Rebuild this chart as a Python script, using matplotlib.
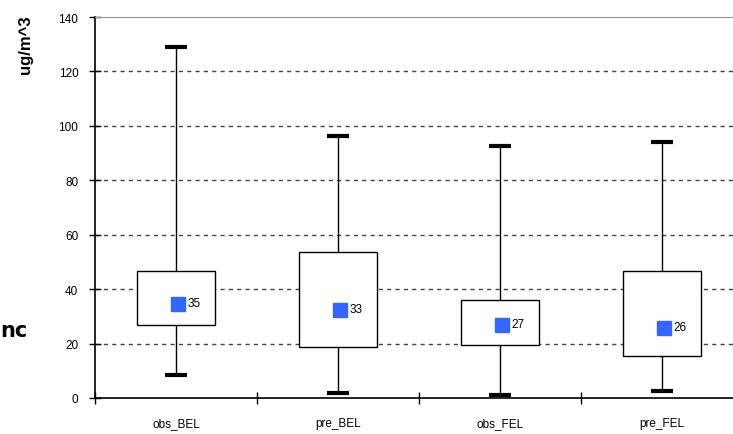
"""Box plot of observed vs predicted concentrations (BEL / FEL)."""

import matplotlib

matplotlib.use("Agg")
import matplotlib.pyplot as plt
import numpy as np

categories = ["obs_BEL", "pre_BEL", "obs_FEL", "pre_FEL"]
whisker_high = [129.0, 96.3, 92.6, 94.1]
box_high = [46.7, 53.7, 36.0, 46.7]
box_low = [26.8, 18.7, 19.5, 15.4]
whisker_low = [8.5, 1.8, 1.1, 2.6]
means = [34.5, 32.3, 26.8, 25.7]
mean_labels = ["35", "33", "27", "26"]

plt.rcParams["font.family"] = ["Liberation Sans", "DejaVu Sans"]

W, H = 733, 435
fig = plt.figure(figsize=(W / 100, H / 100), dpi=100)
ax = fig.add_axes([95 / W, 36 / H, 648 / W, 381 / H])

x = np.arange(len(categories)) + 0.5
box_w = 0.48
cap_w = 0.14

for i, xc in enumerate(x):
    ax.vlines(xc, box_high[i], whisker_high[i], color="black", lw=1, zorder=3)
    ax.vlines(xc, whisker_low[i], box_low[i], color="black", lw=1, zorder=3)
    ax.hlines([whisker_high[i], whisker_low[i]], xc - cap_w / 2, xc + cap_w / 2,
              color="black", lw=3, zorder=3)
    ax.add_patch(plt.Rectangle((xc - box_w / 2, box_low[i]), box_w,
                               box_high[i] - box_low[i], facecolor="white",
                               edgecolor="black", lw=1, zorder=4))
    ax.plot(xc + 0.01, means[i], marker="s", ms=10, color="#3366FF",
            mec="#3366FF", zorder=5)
    ax.text(xc + 0.07, means[i] + 0.3, mean_labels[i], fontsize=8.5,
            va="center", ha="left", zorder=6)

ax.set_xlim(0, 4)
ax.set_ylim(0, 140)
ax.set_yticks(np.arange(0, 141, 20))
ax.set_yticklabels([str(v) for v in range(0, 141, 20)], fontsize=8.5)
ax.set_xticks([0, 1, 2, 3, 4])
ax.set_xticklabels([])
ax.set_xticks(x, minor=True)
ax.set_xticklabels(categories, minor=True, fontsize=8.5)
ax.tick_params(axis="x", which="minor", length=0, pad=14)
ax.tick_params(axis="both", which="major", direction="inout", length=8, width=1)
ax.tick_params(axis="y", pad=8)

for v in range(20, 121, 20):
    ax.axhline(v, color="#444444", lw=1, ls=(0, (3, 3)), zorder=1)

ax.spines["right"].set_visible(False)
ax.spines["top"].set_color("#999999")
ax.spines["left"].set_linewidth(1.2)
ax.spines["bottom"].set_linewidth(1.2)

fig.text(25 / W, 1 - 45 / H, "ug/m^3", rotation=90, fontsize=12,
         fontweight="bold", ha="center", va="center")
fig.text(0, 1 - 331 / H, "nc", fontsize=15, fontweight="bold",
         family=["DejaVu Sans"], ha="left", va="center")

fig.savefig("out.png", dpi=100)
plt.close(fig)
